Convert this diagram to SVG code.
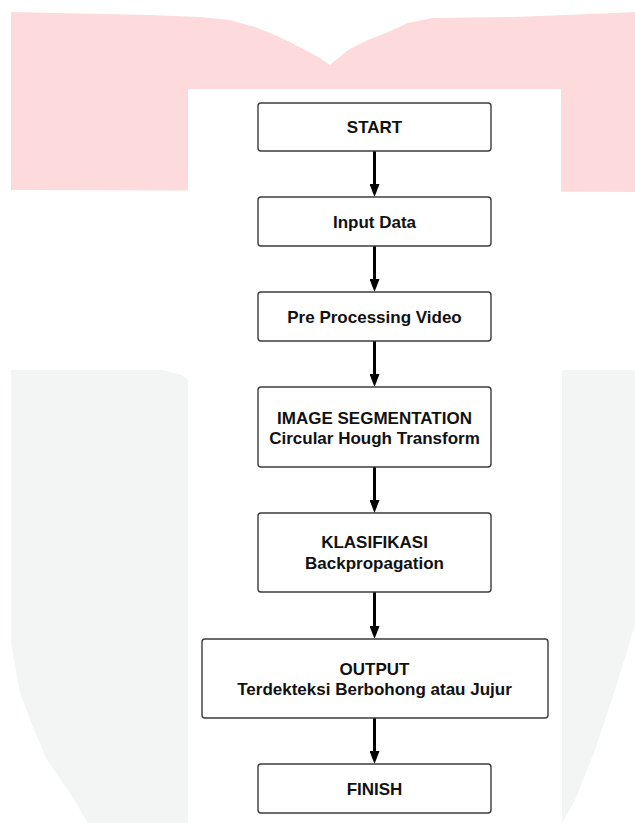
<svg xmlns="http://www.w3.org/2000/svg" width="635" height="823" viewBox="0 0 635 823">
  <style>
    .box { fill: #ffffff; stroke: #3c3c3c; stroke-width: 1.4; }
    .label { font-family: "Liberation Sans", Arial, sans-serif; font-weight: bold; font-size: 17px; fill: #111111; text-anchor: middle; }
    .flow { stroke: #000000; stroke-width: 3; fill: none; }
  </style>
  <defs>
    <!-- solid arrowhead; the shaft stops inside the head so the tip stays sharp -->
    <marker id="head" markerWidth="13" markerHeight="10" refX="3" refY="5" orient="auto" markerUnits="userSpaceOnUse" viewBox="0 0 13 10">
      <path d="M0,0 L13,5 L0,10 Z" fill="#000000"/>
    </marker>
  </defs>

  <!-- background -->
  <rect x="0" y="0" width="635" height="823" fill="#ffffff"/>
  <g id="backdrop">
    <!-- upper pink band with notched top -->
    <path d="M11,12 L150,15 L200,17 L230,20 L255,27 L270,33 L290,42 L305,50 L320,58 L330,65 L348,50 L368,40 L388,32 L408,23 L432,18 L515,17 L615,13 L635,12 L635,192 L11,190 Z" fill="#fddbdc"/>
    <!-- lower grey panels -->
    <path d="M11,370 L163,370 L182,375 L188,380 L188,823 L88,823 L70,793 L47,760 L33,727 L20,693 L11,643 Z" fill="#f3f4f4"/>
    <path d="M562,370 L635,370 L635,625 L615,690 L595,750 L575,800 L562,823 Z" fill="#f3f4f4"/>
    <!-- central white sheet -->
    <rect x="188" y="89" width="373" height="734" fill="#ffffff"/>
  </g>

  <!-- connectors: each line ends 10px above the next box, the head covers the rest -->
  <g id="connectors">
    <line class="flow" x1="374.5" y1="151" x2="374.5" y2="187" marker-end="url(#head)"/>
    <line class="flow" x1="374.5" y1="246" x2="374.5" y2="282" marker-end="url(#head)"/>
    <line class="flow" x1="374.5" y1="341" x2="374.5" y2="377" marker-end="url(#head)"/>
    <line class="flow" x1="374.5" y1="467" x2="374.5" y2="503" marker-end="url(#head)"/>
    <line class="flow" x1="374.5" y1="592" x2="374.5" y2="629" marker-end="url(#head)"/>
    <line class="flow" x1="374.5" y1="718" x2="374.5" y2="754" marker-end="url(#head)"/>
  </g>

  <g id="start">
    <rect class="box" x="258" y="103" width="233" height="48" rx="3"/>
    <text class="label" x="374.5" y="133">START</text>
  </g>
  <g id="input-data">
    <rect class="box" x="258" y="197" width="233" height="49" rx="3"/>
    <text class="label" x="374.5" y="228">Input Data</text>
  </g>
  <g id="pre-processing">
    <rect class="box" x="258" y="292" width="233" height="49" rx="3"/>
    <text class="label" x="374.5" y="323">Pre Processing Video</text>
  </g>
  <g id="segmentation">
    <rect class="box" x="258" y="387" width="233" height="80" rx="3"/>
    <text class="label" x="374.5" y="424">IMAGE SEGMENTATION</text>
    <text class="label" x="374.5" y="444">Circular Hough Transform</text>
  </g>
  <g id="klasifikasi">
    <rect class="box" x="258" y="513" width="233" height="79" rx="3"/>
    <text class="label" x="374.5" y="548">KLASIFIKASI</text>
    <text class="label" x="374.5" y="569">Backpropagation</text>
  </g>
  <g id="output">
    <rect class="box" x="202" y="639" width="346" height="79" rx="3"/>
    <text class="label" x="374.5" y="675">OUTPUT</text>
    <text class="label" x="374.5" y="695">Terdekteksi Berbohong atau Jujur</text>
  </g>
  <g id="finish">
    <rect class="box" x="258" y="764" width="233" height="49" rx="3"/>
    <text class="label" x="374.5" y="795">FINISH</text>
  </g>
</svg>
